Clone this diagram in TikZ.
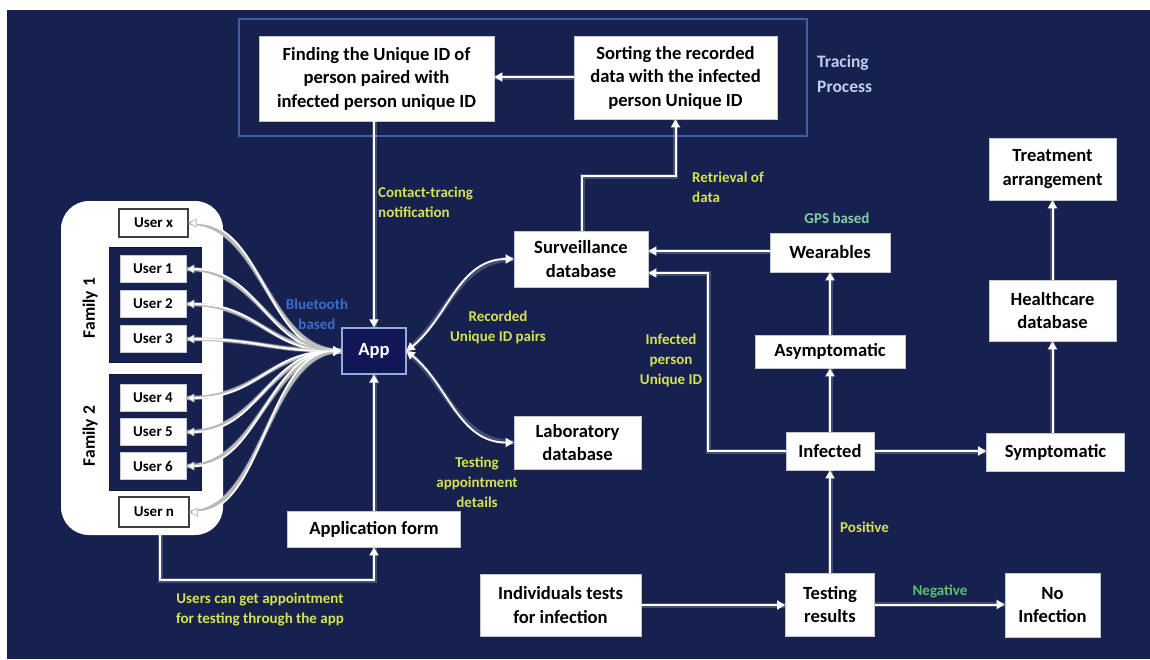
\documentclass[tikz,border=0pt]{standalone}
\usepackage{fontspec}
\setmainfont{Carlito}
\usetikzlibrary{arrows.meta,calc}
\definecolor{navy}{RGB}{23,33,79}
\definecolor{appfill}{RGB}{16,22,86}
\definecolor{appedge}{RGB}{150,172,214}
\definecolor{traceedge}{RGB}{62,94,168}
\definecolor{labelyellow}{RGB}{214,226,80}
\definecolor{btblue}{RGB}{58,110,200}
\definecolor{gpsgreen}{RGB}{128,208,168}
\definecolor{neggreen}{RGB}{92,192,112}
\definecolor{tracetext}{RGB}{186,208,236}
\begin{document}
\begin{tikzpicture}[x=1pt,y=-1pt,
  box/.style={draw=gray!45, line width=0.8pt, fill=white, text=black,
    font=\bfseries\fontsize{18.6}{23.5}\selectfont, align=center, inner sep=0pt},
  userbox/.style={draw=gray!40, line width=0.6pt, fill=white, text=black,
    font=\bfseries\fontsize{15}{18}\selectfont, inner sep=0pt,
    minimum width=66pt, minimum height=27pt},
  loneuser/.style={userbox, draw=black!75, line width=1.2pt},
  famlabel/.style={font=\bfseries\fontsize{17.5}{20}\selectfont, text=black, rotate=90},
  lbl/.style={font=\bfseries\fontsize{15}{20}\selectfont, text=labelyellow, align=center, inner sep=0pt},
  glow/.style={preaction={draw=white, line width=5pt, opacity=0.2, arrows=-}},
  conn/.style={draw=white, line width=2pt, glow, -{Triangle[length=8pt,width=9pt]}},
  biconn/.style={draw=white, line width=1.8pt, glow, {Triangle[length=8pt,width=9pt]}-{Triangle[length=8pt,width=9pt]}},
  userlink/.style={draw=white, line width=1.8pt, glow,
    preaction={draw=gray!55, line width=3.4pt, arrows=-},
    {Triangle[length=8pt,width=9pt]}-{Triangle[length=8pt,width=9pt,fill=white,color=gray!60,line width=0.7pt]}}
]
\useasboundingbox (0,0) rectangle (1150,659);
% page and dark panel
\fill[white] (0,0) rectangle (1150,659);
\fill[navy] (7,10) rectangle (1150,659);

% tracing process frame
\draw[traceedge, line width=1.6pt] (239,19) rectangle (807,136);
\node[font=\bfseries\fontsize{17.5}{25}\selectfont, text=tracetext, align=left, anchor=west, inner sep=0pt]
  (ltrace) at (817,74) {Tracing\\Process};

% main boxes
\node[box, minimum width=235pt, minimum height=85pt] (finding) at (376.5,78.5)
  {Finding the Unique ID of\\person paired with\\infected person unique ID};
\node[box, minimum width=203pt, minimum height=83pt] (sorting) at (675.5,77.5)
  {Sorting the recorded\\data with the infected\\person Unique ID};
\node[box, minimum width=134pt, minimum height=56pt] (surv) at (581,259) {Surveillance\\database};
\node[box, minimum width=127pt, minimum height=53pt] (lab) at (577.5,442.5) {Laboratory\\database};
\node[box, minimum width=173pt, minimum height=36pt] (appform) at (374,529) {Application form};
\node[box, minimum width=161pt, minimum height=62pt] (indiv) at (560.5,605) {Individuals tests\\for infection};
\node[box, minimum width=89pt, minimum height=63pt] (testing) at (830,604.5) {Testing\\results};
\node[box, minimum width=95pt, minimum height=64pt] (noinf) at (1052.5,605) {No\\Infection};
\node[box, minimum width=88pt, minimum height=38pt] (inf) at (830,451) {Infected};
\node[box, minimum width=138pt, minimum height=38pt] (symp) at (1055.5,452) {Symptomatic};
\node[box, minimum width=150pt, minimum height=33pt] (asym) at (830,351.5) {Asymptomatic};
\node[box, minimum width=120pt, minimum height=39pt] (wear) at (830,252.5) {Wearables};
\node[box, minimum width=127pt, minimum height=61pt] (health) at (1052.5,310.5) {Healthcare\\database};
\node[box, minimum width=127pt, minimum height=62pt] (treat) at (1052.5,169) {Treatment\\arrangement};

% app
\node[draw=appedge, line width=1.2pt, fill=appfill, text=white, inner sep=0pt,
  font=\bfseries\fontsize{18.6}{22}\selectfont, minimum width=64pt, minimum height=46pt]
  (app) at (374,351) {App};

% families
\node[fill=white, rounded corners=28pt, minimum width=162pt, minimum height=334pt, inner sep=0pt]
  (famc) at (142,368) {};
\node[fill=navy, draw=navy!70!black, line width=0.8pt, minimum width=92pt, minimum height=115pt, inner sep=0pt]
  (fam1) at (155,304.5) {};
\node[fill=navy, draw=navy!70!black, line width=0.8pt, minimum width=92pt, minimum height=116pt, inner sep=0pt]
  (fam2) at (155,432) {};
\node[famlabel] (lf1) at (90,308) {Family 1};
\node[famlabel] (lf2) at (90,436) {Family 2};

\node[loneuser, minimum width=69pt, minimum height=28pt] (ux) at (153.5,223) {User x};
\node[userbox] (u1) at (153,269) {User 1};
\node[userbox] (u2) at (153,304) {User 2};
\node[userbox] (u3) at (153,339) {User 3};
\node[userbox] (u4) at (153,398) {User 4};
\node[userbox] (u5) at (153,432) {User 5};
\node[userbox] (u6) at (153,466) {User 6};
\node[loneuser, minimum width=70pt, minimum height=30pt] (un) at (154,512) {User n};

% bluetooth links between the app and every user
\foreach \u in {ux,u1,u2,u3,u4,u5,u6,un}{
  \draw[userlink] (app.west) .. controls +(-75,0) and +(75,0) .. (\u.east);
}

% app to databases
\draw[biconn] (app.east) .. controls +(42,-34) and +(-55,0) .. (surv.west);
\draw[biconn] (app.east) .. controls +(42,34) and +(-55,0) .. (lab.west);

% tracing process
\draw[conn] (sorting.west |- 0,77) -- (finding.east |- 0,77);
\draw[conn] (app.north |- finding.south) -- (app.north);
\coordinate (rbend) at (582,176);
\draw[conn] (rbend |- surv.north) -- (rbend) -| (sorting.south);

% application form
\draw[conn] (appform.north) -- (app.south);
\coordinate (ubot) at (160,535);
\coordinate (ulow) at (160,580);
\draw[conn] (ubot) -- (ulow) -| (appform.south);

% infection pathway
\draw[conn] (wear.west |- 0,251) -- (surv.east |- 0,251);
\coordinate (ibend) at (708,273);
\draw[conn] (inf.west) -| (ibend) -- (ibend -| surv.east);
\draw[conn] (inf.north) -- (asym.south);
\draw[conn] (asym.north) -- (wear.south);
\draw[conn] (inf.east) -- (inf.east -| symp.west);
\draw[conn] (symp.north -| health.south) -- (health.south);
\draw[conn] (health.north) -- (treat.south);
\draw[conn] (indiv.east) -- (indiv.east -| testing.west);
\draw[conn] (testing.north) -- (inf.south);
\draw[conn] (testing.east) -- (testing.east -| noinf.west);

% labels
\node[lbl, anchor=west, align=left] (lctn) at (378,202) {Contact-tracing\\notification};
\node[lbl, anchor=west, align=left] (lret) at (692,187) {Retrieval of\\data};
\node[lbl, text=gpsgreen] (lgps) at (837,218) {GPS based};
\node[lbl] (lrec) at (498,327) {Recorded\\Unique ID pairs};
\node[lbl] (linf) at (671,360) {Infected\\person\\Unique ID};
\node[lbl, text=btblue] (lbt) at (317,314) {Bluetooth\\based};
\node[lbl] (ltest) at (477,482) {Testing\\appointment\\details};
\node[lbl] (lusers) at (260,609) {Users can get appointment\\for testing through the app};
\node[lbl, anchor=west] (lpos) at (840,527) {Positive};
\node[lbl, text=neggreen] (lneg) at (940,591) {Negative};
\end{tikzpicture}
\end{document}
